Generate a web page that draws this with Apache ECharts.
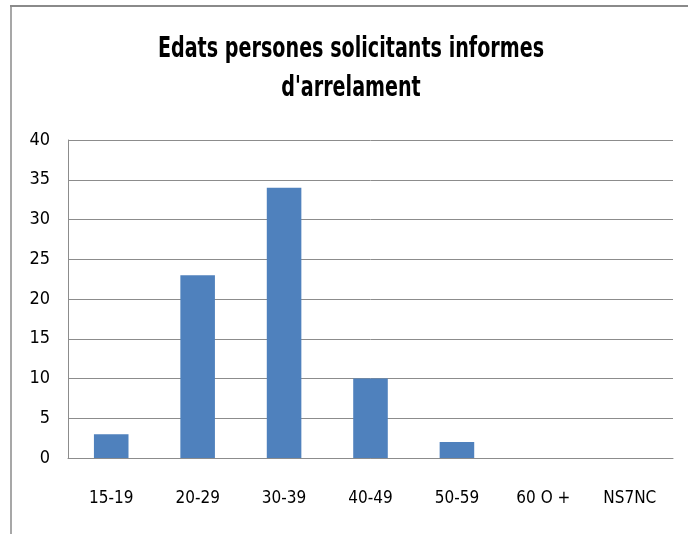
<!DOCTYPE html>
<html><head><meta charset="utf-8">
<script src="https://cdn.jsdelivr.net/npm/echarts@6/dist/echarts.min.js"></script>
<style>html,body{margin:0;padding:0;background:#fff}#c{width:688px;height:534px}</style>
</head><body><div id="c"></div>
<script>
const categories = ['15-19','20-29','30-39','40-49','50-59','60 O +','NS7NC'];
const values = [3, 23, 34, 10, 2, 0, 0];
const titleText = "Edats persones solicitants informes\nd'arrelament";
const FONT = '"Liberation Sans Narrow", "DejaVu Sans Condensed", sans-serif';
const chart = echarts.init(document.getElementById('c'), null, {renderer:'canvas'});
chart.setOption({
  animation:false,
  graphic:[
    {type:'line', shape:{x1:10,y1:6,x2:688,y2:6}, style:{stroke:'#8a8a8a', lineWidth:2}},
    {type:'line', shape:{x1:11,y1:6,x2:11,y2:534}, style:{stroke:'#8a8a8a', lineWidth:1.5}},
    {type:'text', x:351, y:69, scaleX:0.76,
      style:{text:titleText, fontFamily:FONT, fontSize:28, fontWeight:'bold', fill:'#000',
        textAlign:'center', textVerticalAlign:'middle', verticalAlign:'middle', lineHeight:39.5}}
  ],
  grid:{left:68, right:15, top:140, bottom:76},
  xAxis:{type:'category', data:categories,
    axisLine:{lineStyle:{color:'#8c8c8c'}}, axisTick:{show:false},
    axisLabel:{fontFamily:FONT, fontSize:17, color:'#000', margin:32}},
  yAxis:{type:'value', min:0, max:40, interval:5,
    axisLine:{show:true, lineStyle:{color:'#8c8c8c'}}, axisTick:{show:false},
    splitLine:{lineStyle:{color:'#8c8c8c'}},
    axisLabel:{fontFamily:FONT, fontSize:18, color:'#000', margin:18}},
  series:[{type:'bar', data:values, barCategoryGap:'60%',
    itemStyle:{color:'#4F81BD'}}]
});
</script></body></html>
